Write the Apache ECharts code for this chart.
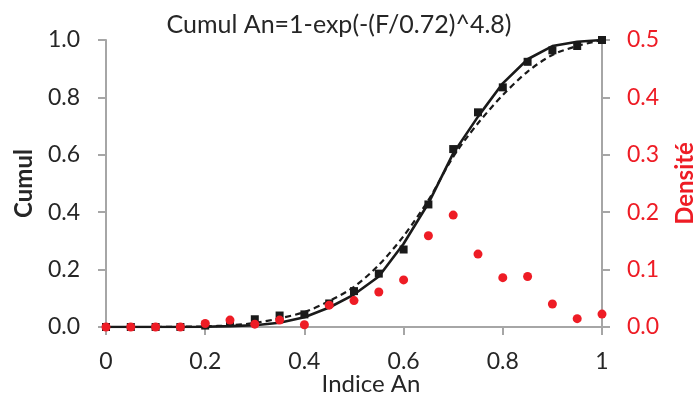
<!DOCTYPE html>
<html>
<head>
<meta charset="utf-8">
<script src="https://cdn.jsdelivr.net/npm/echarts@6/dist/echarts.min.js"></script>
<style>html,body{margin:0;padding:0;background:#fff}#c{width:695px;height:396px}</style>
</head>
<body>
<div id="c"></div>
<script>
var xValues = [0,0.05,0.1,0.15,0.2,0.25,0.3,0.35,0.4,0.45,0.5,0.55,0.6,0.65,0.7,0.75,0.8,0.85,0.9,0.95,1.0];
var cumulObs = [0,0,0,0,0.005,0.015,0.027,0.040,0.044,0.082,0.125,0.186,0.270,0.427,0.620,0.748,0.835,0.924,0.964,0.979,1.0];
var cumulSolid = [0,0,0,0,0.001,0.003,0.006,0.015,0.034,0.068,0.113,0.176,0.290,0.431,0.605,0.733,0.849,0.933,0.979,0.994,1.0];
var cumulDashed = [0,0,0,0.001,0.002,0.006,0.014,0.030,0.052,0.090,0.140,0.216,0.317,0.442,0.593,0.710,0.808,0.890,0.948,0.979,1.0];
var densite = [0,0,0,0,0.006,0.012,0.005,0.012,0.004,0.038,0.046,0.061,0.082,0.159,0.195,0.127,0.086,0.088,0.040,0.0145,0.0225];
var titleText = 'Cumul An=1-exp(-(F/0.72)^4.8)';

function pairs(ys){ return xValues.map(function(x,i){ return [x, ys[i]]; }); }

var FONT = 'Lato';
var TXT = '#262626';
var RED = '#EE1C25';
var GRAY = '#A6A6A6';

var chart = echarts.init(document.getElementById('c'), null, {renderer:'canvas'});
chart.setOption({
  animation: false,
  backgroundColor: '#fff',
  textStyle: {fontFamily: FONT},
  title: {
    text: titleText, left: 334, top: 7, textAlign: 'center',
    textStyle: {fontFamily: FONT, fontSize: 25, fontWeight: 'normal', color: TXT}
  },
  grid: {left: 106, right: 93, top: 40, bottom: 69, containLabel: false, outerBoundsMode: 'none'},
  xAxis: {
    type: 'value', min: 0, max: 1, interval: 0.2,
    name: 'Indice An', nameLocation: 'middle', nameGap: 45, nameMoveOverlap: false,
    nameTextStyle: {fontFamily: FONT, fontSize: 24, color: TXT, padding: [0,0,0,34]},
    axisLine: {show: true, lineStyle: {color: GRAY, width: 2}},
    axisTick: {show: true, inside: false, length: 8, lineStyle: {color: GRAY, width: 2}},
    axisLabel: {margin: 23, fontSize: 23, color: TXT, fontFamily: FONT},
    splitLine: {show: false}
  },
  yAxis: [{
    type: 'value', min: 0, max: 1, interval: 0.2, position: 'left',
    name: 'Cumul', nameLocation: 'middle', nameGap: 70, nameRotate: 90, nameMoveOverlap: false,
    nameTextStyle: {fontFamily: FONT, fontSize: 24, fontWeight: 'bold', color: TXT},
    axisLine: {show: true, lineStyle: {color: GRAY, width: 2}},
    axisTick: {show: true, length: 8, lineStyle: {color: GRAY, width: 2}},
    axisLabel: {margin: 26, fontSize: 23, color: TXT, fontFamily: FONT,
      formatter: function(v){ return v.toFixed(1); }},
    splitLine: {show: false}
  }, {
    type: 'value', min: 0, max: 0.5, interval: 0.1, position: 'right',
    name: 'Densité', nameLocation: 'middle', nameGap: 71, nameRotate: 90, nameMoveOverlap: false,
    nameTextStyle: {fontFamily: FONT, fontSize: 24, fontWeight: 'bold', color: RED},
    axisLine: {show: true, lineStyle: {color: GRAY, width: 2}},
    axisTick: {show: true, length: 8, lineStyle: {color: GRAY, width: 2}},
    axisLabel: {margin: 25, fontSize: 23, color: RED, fontFamily: FONT,
      formatter: function(v){ return v.toFixed(1); }},
    splitLine: {show: false}
  }],
  series: [{
    name: 'Ajust', type: 'line', yAxisIndex: 0, data: pairs(cumulDashed),
    showSymbol: false, smooth: 0.3, z: 2,
    lineStyle: {color: '#1a1a1a', width: 2.2, type: [6, 4]}
  }, {
    name: 'Modèle', type: 'line', yAxisIndex: 0, data: pairs(cumulSolid),
    showSymbol: false, smooth: false, z: 3,
    lineStyle: {color: '#1a1a1a', width: 2.6}
  }, {
    name: 'Cumul', type: 'scatter', yAxisIndex: 0, data: pairs(cumulObs),
    symbol: 'rect', symbolSize: 8, z: 4,
    itemStyle: {color: '#1a1a1a', opacity: 1}
  }, {
    name: 'Densité', type: 'scatter', yAxisIndex: 1, data: pairs(densite),
    symbol: 'circle', symbolSize: 9, z: 5,
    itemStyle: {color: RED, opacity: 1}
  }]
});
</script>
</body>
</html>
